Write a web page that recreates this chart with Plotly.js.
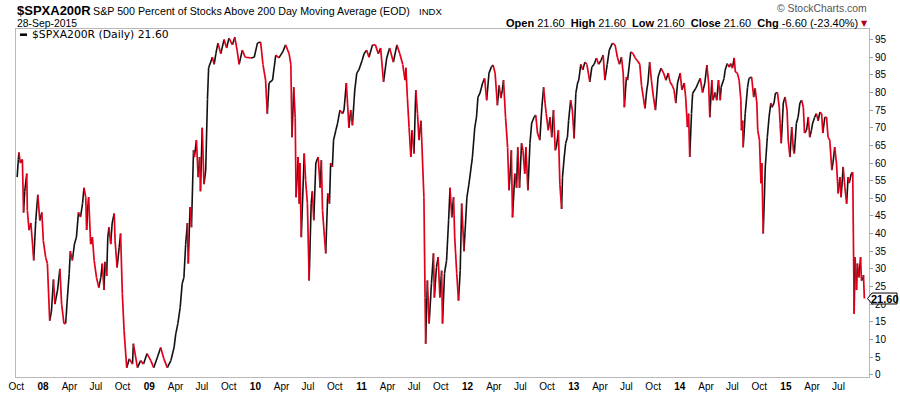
<!DOCTYPE html>
<html><head><meta charset="utf-8">
<script src="https://cdn.plot.ly/plotly-3.0.1.min.js"></script>
<style>html,body{margin:0;padding:0;background:#fff}#chart{width:900px;height:395px}</style>
</head><body><div id="chart"></div>
<script>
// ---- data ($SPXA200R, % of S&P 500 stocks above 200-day MA) ----
const d07 = ['2007-10-04','2007-10-08','2007-10-10','2007-10-15','2007-10-22','2007-10-26','2007-10-30','2007-11-06','2007-11-08','2007-11-14','2007-11-20','2007-11-26','2007-11-30','2007-12-07','2007-12-14','2007-12-21','2007-12-28'];
const v07 = [56,61,63,60,61,46,52,57,46.6,41,43,37,32.4,43.7,51,43.7,46];

const d08 = ['2008-01-02','2008-01-10','2008-01-16','2008-01-24','2008-01-30','2008-02-06','2008-02-11','2008-02-20','2008-02-28','2008-03-05','2008-03-13','2008-03-19','2008-03-25','2008-03-31','2008-04-04','2008-04-11','2008-04-18','2008-04-25','2008-05-02','2008-05-09','2008-05-16','2008-05-21','2008-05-27','2008-05-30','2008-06-04','2008-06-06','2008-06-13','2008-06-19','2008-06-25','2008-07-03','2008-07-11','2008-07-18','2008-07-23','2008-07-29','2008-08-01','2008-08-07','2008-08-11','2008-08-15','2008-08-21','2008-08-26','2008-09-02','2008-09-05','2008-09-12','2008-09-19','2008-09-24','2008-09-30','2008-10-06','2008-10-15','2008-10-24','2008-11-04','2008-11-07','2008-11-21','2008-12-02','2008-12-12','2008-12-24'];
const v08 = [38,33.3,31.5,15.3,18,27,20,24,30,20,14.5,14.5,22,28.6,35,32.4,37,39,46,44.7,48.5,53,50.3,41,48.5,50.3,37,39,32.4,27.6,24.7,27.6,31.5,24,32,28,39,41.8,37,43,45.7,38,30.4,36,40,23,12.5,2,4.5,3,8.8,2,4,3,6];

const d09 = ['2009-01-06','2009-01-16','2009-01-29','2009-02-09','2009-02-20','2009-03-04','2009-03-16','2009-03-27','2009-04-02','2009-04-09','2009-04-17','2009-04-24','2009-04-30','2009-05-06','2009-05-12','2009-05-15','2009-05-21','2009-05-26','2009-06-02','2009-06-05','2009-06-12','2009-06-18','2009-06-23','2009-06-26','2009-07-02','2009-07-08','2009-07-14','2009-07-20','2009-07-24','2009-08-06','2009-08-12','2009-08-18','2009-08-25','2009-09-04','2009-09-15','2009-09-24','2009-10-02','2009-10-14','2009-10-22','2009-10-30','2009-11-06','2009-11-17','2009-11-27','2009-12-16','2009-12-28'];
const v09 = [4,2,5,7.7,4.5,2,4,7.7,11.6,14.5,19,25.8,27.6,37,43,31.5,47.5,41.8,63.6,61.7,66.5,56,61.7,52,70,54,58,78,87,90,88,91,94,91,95,92.6,95.4,93.5,95.7,92,88,92,90,89.8,90];

const d10 = ['2010-01-08','2010-01-19','2010-01-27','2010-02-05','2010-02-11','2010-02-17','2010-03-01','2010-03-12','2010-03-23','2010-04-05','2010-04-15','2010-04-27','2010-05-03','2010-05-07','2010-05-13','2010-05-18','2010-05-21','2010-05-28','2010-06-01','2010-06-03','2010-06-08','2010-06-18','2010-06-23','2010-06-29','2010-07-05','2010-07-12','2010-07-16','2010-07-21','2010-07-28','2010-08-05','2010-08-12','2010-08-16','2010-08-20','2010-08-25','2010-08-31','2010-09-07','2010-09-13','2010-09-17','2010-09-23','2010-09-27','2010-10-05','2010-10-11','2010-10-19','2010-10-28','2010-11-02','2010-11-10','2010-11-19','2010-11-25','2010-12-01','2010-12-09','2010-12-16','2010-12-23'];
const v10 = [94,94.3,88,83.5,74,82.7,83.5,90.6,89.8,91.5,93.5,91,88,67.3,81.5,73,50.3,61.7,48.5,60,39,62.7,55,48.5,26.7,48.5,52,43.8,60,61.7,53,60.8,46.6,41,34.4,51.4,48.5,60,58.9,66.5,69.3,71.3,75,74,75,82.7,70,75,70.7,80.7,85.5,86.4];

const d11 = ['2011-01-03','2011-01-10','2011-01-19','2011-01-27','2011-02-08','2011-02-18','2011-02-28','2011-03-08','2011-03-18','2011-03-29','2011-04-08','2011-04-21','2011-05-03','2011-05-13','2011-05-23','2011-05-31','2011-06-03','2011-06-08','2011-06-14','2011-06-20','2011-06-24','2011-07-01','2011-07-07','2011-07-13','2011-07-18','2011-07-25','2011-08-04','2011-08-08','2011-08-10','2011-08-16','2011-08-22','2011-08-30','2011-09-06','2011-09-09','2011-09-16','2011-09-22','2011-09-28','2011-10-04','2011-10-07','2011-10-14','2011-10-21','2011-10-28','2011-11-02','2011-11-08','2011-11-14','2011-11-18','2011-11-25','2011-12-01','2011-12-07','2011-12-12','2011-12-20','2011-12-30'];
const v11 = [89,91,92,90,93.5,93.5,91,92.6,83,89.8,92.6,88.6,93.5,91,88,83.5,87,78.7,70,61.7,69.3,62.7,80.7,74,66.5,72,50.3,21.9,8.8,26.7,14.5,25.9,34.4,21.9,30.4,33.3,21.9,29.5,14.5,28.7,32.4,43.8,53,44.6,50.3,39,28.7,21,29.5,48.5,35,50.3];

const d12 = ['2012-01-06','2012-01-18','2012-01-26','2012-02-01','2012-02-06','2012-02-13','2012-02-22','2012-02-29','2012-03-07','2012-03-15','2012-03-23','2012-03-29','2012-04-05','2012-04-13','2012-04-19','2012-04-25','2012-04-30','2012-05-04','2012-05-11','2012-05-18','2012-05-23','2012-05-29','2012-05-31','2012-06-04','2012-06-12','2012-06-18','2012-06-22','2012-06-28','2012-07-05','2012-07-10','2012-07-16','2012-07-20','2012-07-27','2012-08-03','2012-08-09','2012-08-17','2012-08-23','2012-08-29','2012-09-06','2012-09-13','2012-09-19','2012-09-24','2012-09-28','2012-10-05','2012-10-11','2012-10-17','2012-10-23','2012-10-29','2012-11-02','2012-11-09','2012-11-14','2012-11-20','2012-11-23','2012-11-29','2012-12-04','2012-12-10','2012-12-14','2012-12-21','2012-12-27'];
const v12 = [54,61.7,70,73,78.7,79.8,82.7,84,77.8,85.5,87.2,87.8,85.5,76.4,82,78.4,80.7,83.5,73,64.5,52.3,60,63.6,44.6,57,53,64.5,53,65.6,63.6,57,64.5,52.3,65.6,71.3,73,73.6,68.5,66.5,75.8,81.5,77,74,69.3,73,67.3,75,63.6,64.5,69.3,54,47,56,61.7,65.6,67.3,72,77.8,75];

const d13 = ['2013-01-02','2013-01-08','2013-01-14','2013-01-18','2013-01-25','2013-02-01','2013-02-08','2013-02-15','2013-02-25','2013-03-04','2013-03-12','2013-03-20','2013-03-27','2013-04-04','2013-04-12','2013-04-18','2013-04-26','2013-05-03','2013-05-14','2013-05-23','2013-05-31','2013-06-07','2013-06-14','2013-06-20','2013-06-24','2013-07-01','2013-07-05','2013-07-16','2013-07-24','2013-07-31','2013-08-08','2013-08-16','2013-08-22','2013-08-28','2013-09-03','2013-09-09','2013-09-13','2013-09-19','2013-09-25','2013-10-02','2013-10-09','2013-10-18','2013-10-28','2013-11-06','2013-11-14','2013-11-22','2013-11-28','2013-12-06','2013-12-12','2013-12-18','2013-12-24'];
const v13 = [67,79.8,82.7,83.5,88,86.4,88.6,88,83,87.2,88,89.8,88,89,90.6,83.5,88,92,94,93.5,90,88,90,85.5,75.8,84.4,83.5,91.5,91,89.8,89,88,82,78.7,75.5,80.7,82.7,88.6,83.5,78.7,75,84.4,86.9,85.5,83.5,85.5,83,82,80.7,77,82.7];

const d14 = ['2014-01-02','2014-01-08','2014-01-16','2014-01-21','2014-01-27','2014-01-31','2014-02-04','2014-02-10','2014-02-14','2014-02-25','2014-03-05','2014-03-12','2014-03-20','2014-03-28','2014-04-04','2014-04-10','2014-04-14','2014-04-21','2014-04-25','2014-05-02','2014-05-08','2014-05-14','2014-05-20','2014-05-23','2014-06-02','2014-06-06','2014-06-13','2014-06-20','2014-06-25','2014-07-01','2014-07-07','2014-07-11','2014-07-18','2014-07-24','2014-07-30','2014-08-01','2014-08-05','2014-08-07','2014-08-14','2014-08-22','2014-08-27','2014-09-05','2014-09-12','2014-09-17','2014-09-23','2014-09-26','2014-10-02','2014-10-07','2014-10-10','2014-10-15','2014-10-22','2014-10-29','2014-11-04','2014-11-10','2014-11-14','2014-11-21','2014-11-26','2014-12-03','2014-12-09','2014-12-12','2014-12-16','2014-12-23','2014-12-29'];
const v14 = [85.5,80.7,82.7,78.7,70.2,74,61.7,74,79.8,81.2,82.7,84,80,82.7,87.8,82.7,73,83.5,77.8,80,77.8,83.5,77.8,81.5,84,86.4,88.2,87.2,88.2,86.9,89.8,85.8,85.5,83.5,77.8,69.3,72,64.5,74,81.5,84,84.4,78.7,81.2,77,69.3,66.5,54.3,60,40,58.9,67.3,73,77,75.8,77,79.8,80,75.8,71.3,65.6,77,78.7];

const d15 = ['2015-01-05','2015-01-09','2015-01-15','2015-01-21','2015-01-27','2015-01-30','2015-02-06','2015-02-12','2015-02-18','2015-02-24','2015-03-02','2015-03-06','2015-03-13','2015-03-19','2015-03-24','2015-03-30','2015-04-03','2015-04-10','2015-04-16','2015-04-22','2015-04-28','2015-05-04','2015-05-08','2015-05-15','2015-05-21','2015-05-26','2015-06-01','2015-06-08','2015-06-12','2015-06-18','2015-06-24','2015-06-30','2015-07-06','2015-07-10','2015-07-17','2015-07-23','2015-07-29','2015-08-03','2015-08-07','2015-08-14','2015-08-19','2015-08-21','2015-08-24','2015-08-27','2015-09-01','2015-09-04','2015-09-10','2015-09-15','2015-09-18','2015-09-24','2015-09-25','2015-09-28'];
const v15 = [75,66.5,61.7,70.2,63.6,62.7,71.3,73,77,77.8,75.8,68.5,69.3,73,67.3,69.3,71.3,73,74,72,74.4,74,68.5,73,73,67.3,66.5,58,60,64.5,60,51.4,56,50.3,58.9,53,48.5,56,54.3,57,57.4,41,17.3,33.3,24,31.5,27.6,33.3,26.7,27.6,28.2,21.6];

const tickDates = ['2007-10-01','2008-01-01','2008-04-01','2008-07-01','2008-10-01','2009-01-01','2009-04-01','2009-07-01','2009-10-01','2010-01-01','2010-04-01','2010-07-01','2010-10-01','2011-01-01','2011-04-01','2011-07-01','2011-10-01','2012-01-01','2012-04-01','2012-07-01','2012-10-01','2013-01-01','2013-04-01','2013-07-01','2013-10-01','2014-01-01','2014-04-01','2014-07-01','2014-10-01','2015-01-01','2015-04-01','2015-07-01'];
const tickLabels = ['Oct','<b>08</b>','Apr','Jul','Oct','<b>09</b>','Apr','Jul','Oct','<b>10</b>','Apr','Jul','Oct','<b>11</b>','Apr','Jul','Oct','<b>12</b>','Apr','Jul','Oct','<b>13</b>','Apr','Jul','Oct','<b>14</b>','Apr','Jul','Oct','<b>15</b>','Apr','Jul'];
const yTicks = [0,5,10,15,20,25,30,35,40,45,50,55,60,65,70,75,80,85,90,95];

// ---- build ----
const dates = [].concat(d07,d08,d09,d10,d11,d12,d13,d14,d15);
const values = [].concat(v07,v08,v09,v10,v11,v12,v13,v14,v15);
const n = values.length;
const last = values[n-1], prev = values[n-2];
const chg = last - prev, pct = chg / prev * 100;

// rising segments drawn black, falling ones red
const upX = [], upY = [], dnX = [], dnY = [];
for (let i = 1; i < n; i++) {
  if (values[i] > values[i-1]) { upX.push(dates[i-1], dates[i], null); upY.push(values[i-1], values[i], null); }
  else { dnX.push(dates[i-1], dates[i], null); dnY.push(values[i-1], values[i], null); }
}

const W = 900, H = 395, M = {l:16, r:31, t:29, b:18};
const PW = W - M.l - M.r, PH = H - M.t - M.b;
const px = x => (x - M.l) / PW;
const py = y => 1 - (y - M.t) / PH;
const SANS = 'Liberation Sans, Arial, sans-serif';

const traces = [
  {x: upX, y: upY, type: 'scatter', mode: 'lines', line: {color: '#111111', width: 1.6}, connectgaps: false, hoverinfo: 'skip', showlegend: false},
  {x: dnX, y: dnY, type: 'scatter', mode: 'lines', line: {color: '#e2001a', width: 1.7}, connectgaps: false, hoverinfo: 'skip', showlegend: false}
];

const ann = (x, y, text, size, opts) => Object.assign({xref: 'paper', yref: 'paper', x: px(x), y: py(y), text: text, showarrow: false,
  xanchor: 'left', yanchor: 'middle', font: {family: SANS, size: size, color: '#000'}}, opts || {});

const f2 = v => v.toFixed(2);
const priceText = '<b>Open</b> ' + f2(last) + '&nbsp;&nbsp;<b>High</b> ' + f2(last) + '&nbsp;&nbsp;<b>Low</b> ' + f2(last) +
  '&nbsp;&nbsp;<b>Close</b> ' + f2(last) + '&nbsp;&nbsp;<b>Chg</b> ' + f2(chg) + ' (' + f2(pct) + '%)';

const annotations = [
  ann(15, 10.5, '<b>$SPXA200R</b>', 13),
  ann(91, 11, 'S&amp;P 500 Percent of Stocks Above 200 Day Moving Average (EOD)', 10.7),
  ann(417, 11.5, 'INDX', 9.6),
  ann(15, 24, '28-Sep-2015', 10.4),
  ann(869, 9, '© StockCharts.com', 10.4, {xanchor: 'right', font: {family: SANS, size: 10.4, color: '#555'}}),
  ann(860, 23, priceText, 11, {xanchor: 'right'}),
  ann(864, 23, '▼', 8, {xanchor: 'center', font: {family: 'DejaVu Sans', size: 8, color: '#b0001a'}}),
  ann(30, 34.8, '$SPXA200R (Daily) ' + f2(last), 11, {font: {family: 'DejaVu Sans', size: 10.8, color: '#000'}}),
  {xref: 'paper', yref: 'y', x: px(884.5), y: last, text: '<b>' + f2(last) + '</b>', showarrow: false, xanchor: 'center', yanchor: 'middle',
   font: {family: SANS, size: 11, color: '#000'}}
];

const shapes = [
  {type: 'line', xref: 'paper', yref: 'paper', x0: px(20), x1: px(27), y0: py(34.7), y1: py(34.7), line: {color: '#000', width: 2.5}},
  {type: 'path', xref: 'paper', yref: 'y',
   path: 'M' + px(872) + ',' + (last + 1.55) + ' L' + px(897) + ',' + (last + 1.55) + ' L' + px(897) + ',' + (last - 1.55) +
         ' L' + px(872) + ',' + (last - 1.55) + ' L' + px(867.5) + ',' + last + ' Z',
   fillcolor: '#fff', line: {color: '#000', width: 1}, layer: 'above'}
];

const layout = {
  width: W, height: H, margin: M, paper_bgcolor: '#fff', plot_bgcolor: '#fff', showlegend: false,
  font: {family: SANS, size: 10, color: '#000'},
  xaxis: {type: 'date', range: ['2007-09-30', '2015-10-14'], tickmode: 'array', tickvals: tickDates, ticktext: tickLabels,
    showgrid: false, zeroline: false, showline: true, mirror: true, linecolor: '#b8b8b8', linewidth: 1, ticks: '',
    tickfont: {family: SANS, size: 10, color: '#000'}, fixedrange: true},
  yaxis: {side: 'right', range: [-0.65, 98], tickmode: 'array', tickvals: yTicks, showgrid: false, zeroline: false,
    showline: true, mirror: true, linecolor: '#b8b8b8', linewidth: 1, ticks: 'outside', ticklen: 3, tickcolor: '#999',
    tickfont: {family: SANS, size: 10, color: '#000'}, fixedrange: true},
  annotations: annotations, shapes: shapes
};

Plotly.newPlot('chart', traces, layout, {displayModeBar: false, staticPlot: true});
</script></body></html>
